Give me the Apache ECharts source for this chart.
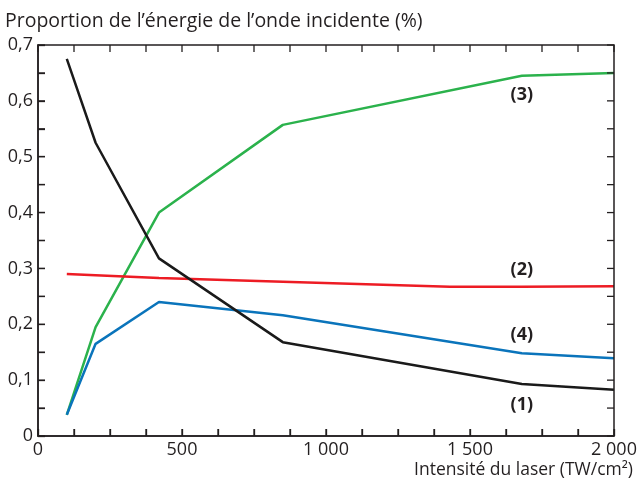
<!DOCTYPE html>
<html><head><meta charset="utf-8">
<script src="https://cdn.jsdelivr.net/npm/echarts@6/dist/echarts.min.js"></script>
<style>html,body{margin:0;padding:0;background:#fff}#c{width:642px;height:484px}</style>
</head><body><div id="c"></div>
<script>
const intensity1 = [100, 200, 420, 850, 1680, 2000];
const curve1 = [0.675, 0.525, 0.318, 0.168, 0.093, 0.083];
const curve3 = [0.038, 0.195, 0.400, 0.557, 0.645, 0.650];
const curve4 = [0.038, 0.165, 0.240, 0.216, 0.148, 0.139];
const intensity2 = [100, 420, 850, 1430, 1680, 2000];
const curve2 = [0.290, 0.283, 0.276, 0.267, 0.267, 0.268];
const labelX = 1680;
const names = ['(1)', '(2)', '(3)', '(4)'];
const xTickValues = [0, 125, 250, 375, 500, 625, 750, 875, 1000, 1125, 1250, 1375, 1500, 1625, 1750, 1875, 2000];
const yTickValues = [0, 0.05, 0.1, 0.15, 0.2, 0.25, 0.3, 0.35, 0.4, 0.45, 0.5, 0.55, 0.6, 0.65, 0.7];
const xMin = 0, xMax = 2000, yMin = 0, yMax = 0.7;

const font = '"Open Sans", "Noto Sans", sans-serif';
const txt = '#231f20';
const ink = '#231f20';
const TL = 7;
function pairs(xs, ys){ return xs.map((x,i)=>[x, ys[i]]); }
function mk(name, xs, ys, color, offY){
  const idx = xs.indexOf(labelX);
  return {
    type:'line', name, data: pairs(xs, ys), showSymbol:false, symbol:'none',
    lineStyle:{color, width:2.5}, itemStyle:{color}, silent:true, z: 3,
    markPoint:{symbol:'circle', symbolSize:0, silent:true, data:[{coord:[labelX, ys[idx]], value:name}],
      label:{show:true, formatter:name, color:txt, fontFamily:font, fontSize:18, fontWeight:'bold', offset:[0, offY]}}
  };
}
function xfmt(v){
  const r = Math.round(v);
  if (r % 500 !== 0) return '';
  return r >= 1000 ? String(r).replace(/(\d)(\d{3})$/,'$1 $2') : String(r);
}
function yfmt(v){
  const k = Math.round(v*20);
  if (k % 2 !== 0) return '';
  return k === 0 ? '0' : (k/20).toFixed(1).replace('.',',');
}
const lineSt = {stroke: ink, lineWidth: 1.3};
const chart = echarts.init(document.getElementById('c'));
chart.setOption({
  animation:false,
  grid:{left:38, right:28, top:45, bottom:48, containLabel:false, outerBoundsMode:'none'},
  xAxis:{
    type:'value', min:xMin, max:xMax, interval:125,
    axisLine:{show:true, onZero:false, lineStyle:{color:ink, width:1.5}},
    axisTick:{show:true, inside:true, length:TL, lineStyle:{color:ink, width:1.3}},
    splitLine:{show:false},
    axisLabel:{color:txt, fontFamily:font, fontSize:18, margin:5, showMinLabel:true, showMaxLabel:true, hideOverlap:false, formatter:xfmt},
    name:'Intensité du laser (TW/cm²)', nameLocation:'end', nameGap:0,
    nameTextStyle:{color:txt, fontFamily:font, fontSize:17.5, align:'right', verticalAlign:'top', padding:[25,-19,0,0]}
  },
  yAxis:{
    type:'value', min:yMin, max:yMax, interval:0.05,
    axisLine:{show:true, onZero:false, lineStyle:{color:ink, width:1.5}},
    axisTick:{show:true, inside:true, length:TL, lineStyle:{color:ink, width:1.3}},
    splitLine:{show:false},
    axisLabel:{color:txt, fontFamily:font, fontSize:18, margin:5, showMinLabel:true, showMaxLabel:true, hideOverlap:false, formatter:yfmt},
    name:'Proportion de l’énergie de l’onde incidente (%)', nameLocation:'end', nameGap:14,
    nameTextStyle:{color:txt, fontFamily:font, fontSize:19.5, align:'left', padding:[0,0,0,-33]}
  },
  series:[
    mk(names[2], intensity1, curve3, '#2bb24c', 19),
    mk(names[1], intensity2, curve2, '#ed1c24', -17),
    mk(names[3], intensity1, curve4, '#0a74bb', -18),
    mk(names[0], intensity1, curve1, '#1a1a1a', 21),
    {
      type:'custom', silent:true, clip:false, z:5,
      data:[[xMin, yMin]],
      renderItem:(params, api)=>{
        const a = api.coord([xMin, yMax]);
        const b = api.coord([xMax, yMin]);
        return {type:'rect', shape:{x:a[0], y:a[1], width:b[0]-a[0], height:b[1]-a[1]},
                style:{fill:'none', stroke:ink, lineWidth:1.5}};
      }
    },
    {
      type:'custom', silent:true, clip:false, z:5,
      data:xTickValues.map(v=>[v, yMin]),
      renderItem:(params, api)=>{
        const v = api.value(0);
        const b = api.coord([v, yMin]);
        const t = api.coord([v, yMax]);
        return {type:'group', children:[
          {type:'line', shape:{x1:b[0], y1:b[1], x2:b[0], y2:b[1]-TL}, style:lineSt},
          {type:'line', shape:{x1:t[0], y1:t[1], x2:t[0], y2:t[1]+TL}, style:lineSt}
        ]};
      }
    },
    {
      type:'custom', silent:true, clip:false, z:5,
      data:yTickValues.map(v=>[xMin, v]),
      renderItem:(params, api)=>{
        const v = api.value(1);
        const l = api.coord([xMin, v]);
        const r = api.coord([xMax, v]);
        return {type:'group', children:[
          {type:'line', shape:{x1:l[0], y1:l[1], x2:l[0]+TL, y2:l[1]}, style:lineSt},
          {type:'line', shape:{x1:r[0], y1:r[1], x2:r[0]-TL, y2:r[1]}, style:lineSt}
        ]};
      }
    }
  ]
});
</script></body></html>
